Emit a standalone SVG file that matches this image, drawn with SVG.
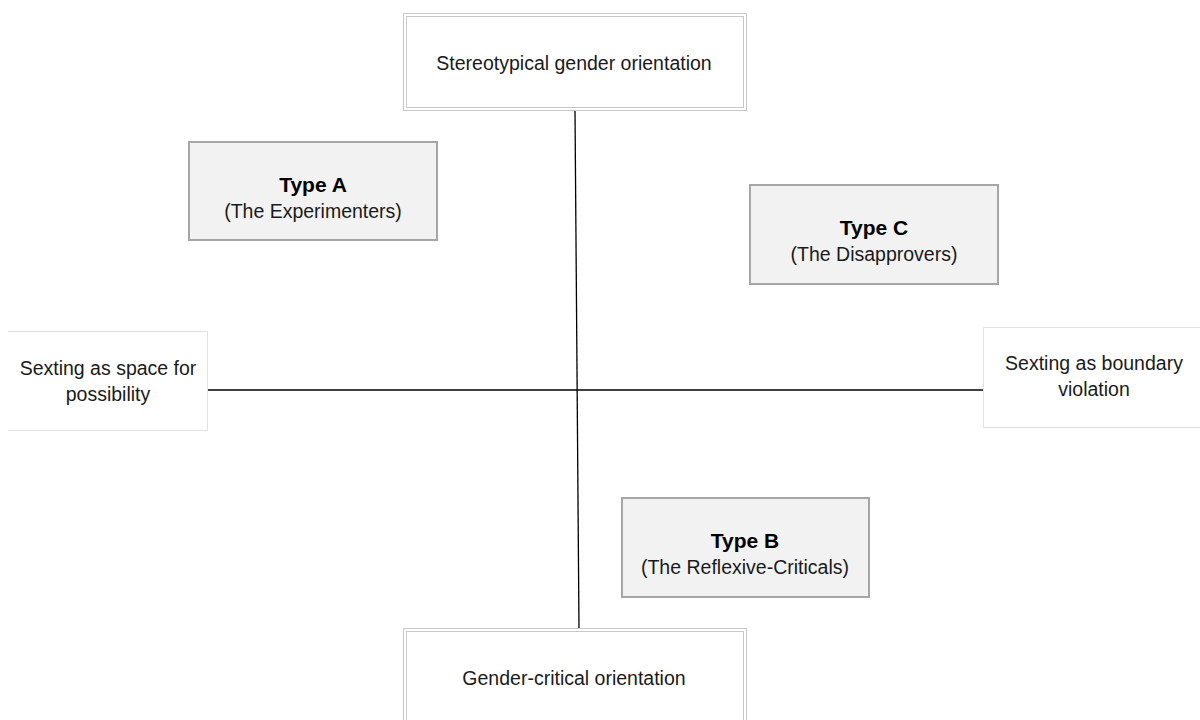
<svg xmlns="http://www.w3.org/2000/svg" width="1200" height="720" viewBox="0 0 1200 720">
<style>
text{font-family:"Liberation Sans",Arial,sans-serif;font-size:19.5px;fill:#1a1a1a;text-anchor:middle}
.b{font-weight:bold;font-size:21px;fill:#000}
.ax{fill:#fff;stroke:#c8c8c8;stroke-width:1}
.lab{fill:#fff;stroke:#e2e2e2;stroke-width:1}
.ty{fill:#f2f2f2;stroke:#a6a6a6;stroke-width:2}
.ln{stroke:#000;stroke-width:1.3;fill:none}
</style>
<rect width="1200" height="720" fill="#fff"/>
<g id="connectors">
<line class="ln" x1="575" y1="110" x2="579" y2="630"/>
<line class="ln" x1="207" y1="390" x2="984" y2="390"/>
</g>
<g id="top">
<rect class="ax" x="403.5" y="13.5" width="343" height="97"/>
<rect class="ax" x="406.5" y="16.5" width="337" height="91"/>
<text x="574" y="70">Stereotypical gender orientation</text>
</g>
<g id="bottom">
<rect class="ax" x="403.5" y="628.5" width="343" height="100"/>
<rect class="ax" x="406.5" y="631.5" width="337" height="100"/>
<text x="574" y="685">Gender-critical orientation</text>
</g>
<g id="left">
<path class="lab" d="M8 331.5H207.5V430.5H8"/>
<text x="108" y="375">Sexting as space for</text>
<text x="108" y="401">possibility</text>
</g>
<g id="right">
<path class="lab" d="M1200 327.5H983.5V427.5H1200"/>
<text x="1094" y="370">Sexting as boundary</text>
<text x="1094" y="396">violation</text>
</g>
<g id="typeA">
<rect class="ty" x="189" y="142" width="248" height="98"/>
<text class="b" x="313" y="192">Type A</text>
<text x="313" y="218">(The Experimenters)</text>
</g>
<g id="typeC">
<rect class="ty" x="750" y="185" width="248" height="99"/>
<text class="b" x="874" y="235">Type C</text>
<text x="874" y="261">(The Disapprovers)</text>
</g>
<g id="typeB">
<rect class="ty" x="622" y="498" width="247" height="99"/>
<text class="b" x="745" y="548">Type B</text>
<text x="745" y="574">(The Reflexive-Criticals)</text>
</g>
</svg>
